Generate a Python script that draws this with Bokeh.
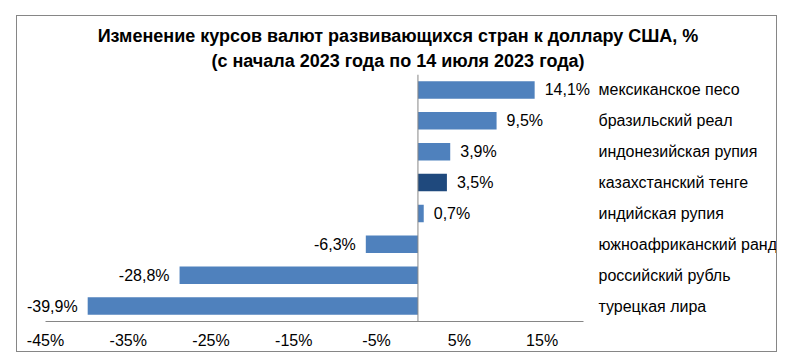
from bokeh.plotting import figure
from bokeh.models import (ColumnDataSource, FactorRange, Range1d, FixedTicker,
                          PrintfTickFormatter, LinearAxis, Span, Title)
from bokeh.core.properties import value
from bokeh.embed import file_html
from bokeh.resources import INLINE

title_line1 = "Изменение курсов валют развивающихся стран к доллару США, %"
title_line2 = "(с начала 2023 года по 14 июля 2023 года)"
currencies = ["мексиканское песо", "бразильский реал", "индонезийская рупия",
              "казахстанский тенге", "индийская рупия", "южноафриканский ранд",
              "российский рубль", "турецкая лира"]
changes = [14.1, 9.5, 3.9, 3.5, 0.7, -6.3, -28.8, -39.9]
highlight = "казахстанский тенге"
x_ticks = [-45, -35, -25, -15, -5, 5, 15]
axis_min, axis_max = -45, 20

# visible frame extends past the axis so that labels are not clipped
VIEW_MIN, VIEW_MAX = -48.38, 43.56

FONT = "Liberation Sans"
BLUE = "#4F81BD"
DARK = "#1F497D"
GREY = "#868686"

labels = [f"{v:.1f}".replace(".", ",") + "%" for v in changes]
colors = [DARK if c == highlight else BLUE for c in currencies]

src = ColumnDataSource(dict(cat=currencies, val=changes, col=colors,
                            zero=[0] * len(changes),
                            edge=[axis_max] * len(changes)))
pos_src = ColumnDataSource(dict(cat=[c for c, v in zip(currencies, changes) if v >= 0],
                                val=[v for v in changes if v >= 0],
                                lab=[l for l, v in zip(labels, changes) if v >= 0]))
neg_src = ColumnDataSource(dict(cat=[c for c, v in zip(currencies, changes) if v < 0],
                                val=[v for v in changes if v < 0],
                                lab=[l for l, v in zip(labels, changes) if v < 0]))

W, H = 761, 337
p = figure(width=W, height=H, output_backend="svg", toolbar_location=None,
           x_range=Range1d(VIEW_MIN, VIEW_MAX),
           y_range=FactorRange(factors=list(reversed(currencies)), range_padding=0),
           x_axis_location=None, y_axis_location=None,
           min_border_left=0, min_border_right=0, min_border_top=58,
           min_border_bottom=32)
p.styles = {"border": "1px solid #868686", "margin-left": "16px", "margin-top": "15px"}
p.outline_line_color = None
p.grid.visible = False
p.background_fill_color = "white"
p.border_fill_color = "white"

p.hbar(y="cat", left="zero", right="val", height=0.57, fill_color="col",
       line_color=None, source=src)

p.text(x="val", y="cat", text="lab", source=pos_src, x_offset=10,
       text_align="left", text_baseline="middle", text_font=value(FONT),
       text_font_size="16px", text_color="black")
p.text(x="val", y="cat", text="lab", source=neg_src, x_offset=-10,
       text_align="right", text_baseline="middle", text_font=value(FONT),
       text_font_size="16px", text_color="black")
# category names, placed to the right of the value axis (Excel "high" label position)
p.text(x="edge", y="cat", text="cat", source=src, x_offset=15,
       text_align="left", text_baseline="middle", text_font=value(FONT),
       text_font_size="16px", text_color="black")

p.add_layout(Span(location=0, dimension="height", line_color=GREY, line_width=1))

xa = LinearAxis(ticker=FixedTicker(ticks=x_ticks), bounds=(axis_min, axis_max),
                formatter=PrintfTickFormatter(format="%d%%"))
xa.axis_line_color = GREY
xa.major_tick_line_color = None
xa.minor_tick_line_color = None
xa.major_tick_out = 0
xa.major_label_standoff = 10
xa.major_label_text_font = FONT
xa.major_label_text_font_size = "16px"
xa.major_label_text_color = "black"
p.add_layout(xa, "below")

p.add_layout(Title(text=title_line2, align="center", text_font=FONT,
                   text_font_style="bold", text_font_size="18px", standoff=7,
                   text_color="black"), "above")
p.add_layout(Title(text=title_line1, align="center", text_font=FONT,
                   text_font_style="bold", text_font_size="18px", standoff=0,
                   text_color="black"), "above")

open("out.html", "w").write(file_html(p, INLINE))
